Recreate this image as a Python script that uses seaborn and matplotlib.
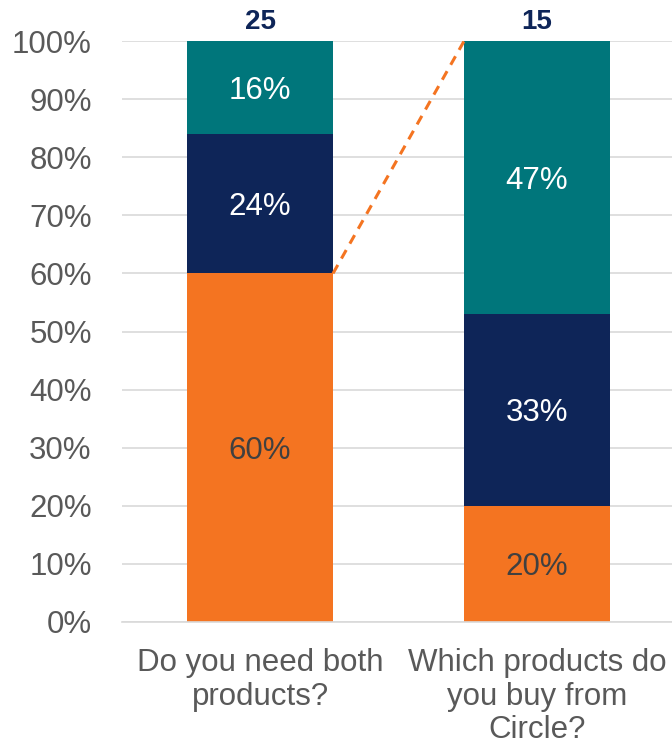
import matplotlib
matplotlib.use("Agg")
import matplotlib.pyplot as plt
import seaborn as sns
import numpy as np
import pandas as pd

categories = ["Do you need both\nproducts?", "Which products do\nyou buy from\nCircle?"]
orange_vals = [60, 20]
navy_vals = [24, 33]
teal_vals = [16, 47]
totals = [25, 15]
tick_labels = ["0%", "10%", "20%", "30%", "40%", "50%", "60%", "70%", "80%", "90%", "100%"]

c_orange = "#F47421"
c_navy = "#0E2558"
c_teal = "#00767B"

sns.set_theme(style="white")
plt.rcParams['font.family'] = ['Liberation Sans', 'DejaVu Sans']

fig = plt.figure(figsize=(6.72, 7.5), dpi=100)
ax = fig.add_axes([0.181, 0.171, 0.824, 0.774])

o = np.array(orange_vals)
n = np.array(navy_vals)
t = np.array(teal_vals)
layers = [(o + n + t, c_teal), (o + n, c_navy), (o, c_orange)]
width = 0.527
for vals, col in layers:
    df = pd.DataFrame({"cat": categories, "val": vals})
    sns.barplot(data=df, x="cat", y="val", color=col, width=width, ax=ax,
                saturation=1, edgecolor="none", linewidth=0, zorder=2)

fs = 22.5
for i in range(len(categories)):
    ax.text(i, o[i] / 2, f"{o[i]}%", ha="center", va="center_baseline", fontsize=fs, color="#404040", zorder=3)
    ax.text(i, o[i] + n[i] / 2, f"{n[i]}%", ha="center", va="center_baseline", fontsize=fs, color="white", zorder=3)
    ax.text(i, o[i] + n[i] + t[i] / 2, f"{t[i]}%", ha="center", va="center_baseline", fontsize=fs, color="white", zorder=3)
    ax.text(i, 103.3, str(totals[i]), ha="center", va="center", fontsize=20, fontweight="bold", color="#0E2558")

ax.plot([0 + width / 2, 1 - width / 2], [o[0], 100], linestyle=(0, (3.2, 2.4)), color=c_orange, linewidth=2.2, zorder=3)

ax.set_ylim(0, 100)
ax.set_xlim(-0.5, 1.5)
ax.set_yticks(np.arange(0, 101, 10))
ax.set_yticklabels(tick_labels, fontsize=fs, color="#595959")
ax.tick_params(axis="x", labelsize=fs, labelcolor="#595959", pad=19, length=0)
ax.tick_params(axis="y", length=0, pad=21.5)
for lbl in ax.get_xticklabels():
    lbl.set_linespacing(1.16)
ax.set_xlabel("")
ax.set_ylabel("")
ax.yaxis.grid(True, color="#D9D9D9", linewidth=1.2, zorder=0)
ax.set_axisbelow(True)
for s in ["top", "right", "left"]:
    ax.spines[s].set_visible(False)
ax.spines["bottom"].set_color("#D9D9D9")
ax.spines["bottom"].set_linewidth(1.2)
ax.patch.set_alpha(0)

fig.savefig("out.png", dpi=100)
